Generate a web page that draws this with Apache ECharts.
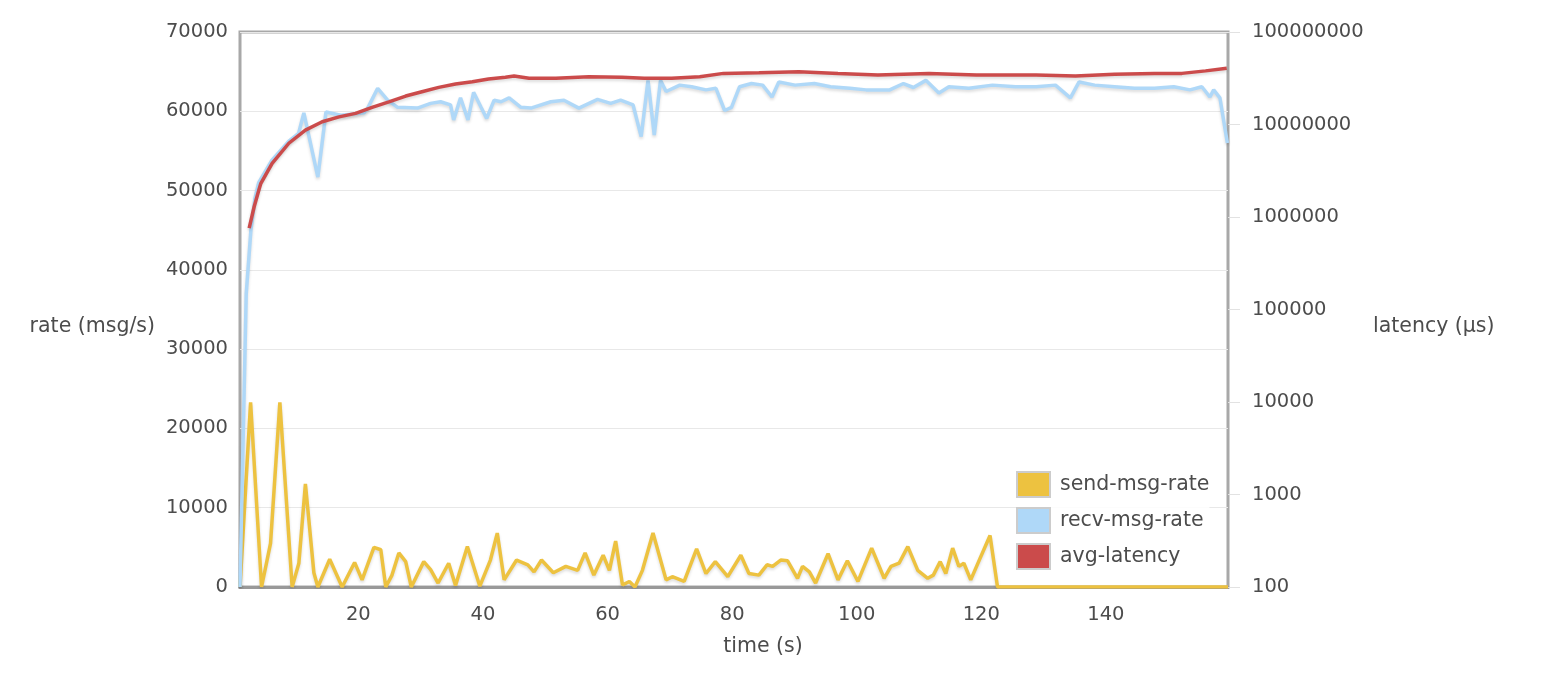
<!DOCTYPE html>
<html>
<head>
<meta charset="utf-8">
<script src="https://cdn.jsdelivr.net/npm/echarts@6/dist/echarts.min.js"></script>
<style>
html,body{margin:0;padding:0;background:#fff;}
#chart{width:1550px;height:678px;}
</style>
</head>
<body>
<div id="chart"></div>
<script>
// ---- data (time in s) ----
const seriesNames = ['send-msg-rate', 'recv-msg-rate', 'avg-latency'];
const xTickLabels = [20, 40, 60, 80, 100, 120, 140];
const leftTicks = [0, 10000, 20000, 30000, 40000, 50000, 60000, 70000];
const rightTicks = [100, 1000, 10000, 100000, 1000000, 10000000, 100000000];

const sendT = [1, 2.7, 4.46, 5.9, 7.4, 9.37, 10.45, 11.5, 12.86, 13.5, 15.4, 17.4, 19.4, 20.6, 22.5, 23.6, 24.4, 25.4, 26.5, 27.6, 28.5, 30.5, 31.6, 32.8, 34.5, 35.6, 37.5, 39.5, 41.2, 42.3, 43.4, 45.4, 47.2, 48.2, 49.4, 51.3, 53.3, 55.2, 56.4, 57.8, 59.3, 60.3, 61.3, 62.4, 63.5, 64.4, 65.6, 67.3, 69.4, 70.4, 72.3, 74.3, 75.8, 77.3, 79.3, 81.4, 82.7, 84.3, 85.6, 86.5, 87.8, 88.9, 90.5, 91.3, 92.4, 93.4, 95.4, 97, 98.5, 100.2, 102.4, 104.4, 105.5, 106.8, 108.2, 109.8, 111.4, 112.3, 113.4, 114.3, 115.4, 116.4, 117.2, 118.3, 119.9, 121.4, 122.6, 159.6];
const sendV = [0, 23300, 0, 5500, 23300, 0, 3000, 13000, 1800, 0, 3500, 0, 3100, 900, 5000, 4700, 0, 1500, 4300, 3200, 0, 3200, 2200, 500, 3000, 200, 5100, 100, 3400, 6800, 900, 3400, 2800, 1900, 3400, 1800, 2600, 2100, 4300, 1500, 4000, 2100, 5800, 250, 700, 0, 2100, 6800, 900, 1300, 700, 4800, 1700, 3200, 1300, 4000, 1700, 1500, 2800, 2600, 3400, 3300, 1100, 2600, 1900, 500, 4200, 900, 3300, 700, 4900, 1100, 2600, 3000, 5100, 2100, 1100, 1500, 3200, 1700, 4900, 2600, 3000, 900, 3800, 6500, 0, 0];

const recvT = [1, 2.0, 2.75, 3.4, 4.0, 6.1, 8.8, 10.4, 11.25, 13.5, 14.8, 17.2, 20.9, 21.5, 23.1, 24.7, 26.3, 29.5, 31.6, 33.2, 34.8, 35.3, 36.4, 37.6, 38.5, 39.7, 40.6, 41.8, 42.9, 44.2, 46.1, 47.7, 50.9, 53, 55.4, 58.4, 60.5, 62.1, 64.1, 65.4, 66.5, 67.5, 68.5, 69.4, 71.6, 73.5, 75.8, 77.4, 78.8, 79.9, 81.2, 83.1, 84.9, 86.4, 87.5, 90.1, 93.2, 95.8, 98.9, 101.5, 105.3, 107.5, 109.1, 111.1, 113.2, 114.8, 118, 121.8, 125.5, 128.8, 131.9, 134.3, 135.7, 138.2, 141.4, 144.6, 147.8, 150.9, 153.5, 155.4, 156.7, 157.3, 158.3, 159.5];
const recvV = [0, 37000, 45000, 49000, 51000, 53800, 56200, 57200, 59800, 51700, 59900, 59500, 59800, 60400, 62900, 61400, 60500, 60400, 61000, 61200, 60800, 58900, 61700, 58900, 62400, 60500, 59100, 61400, 61200, 61700, 60500, 60400, 61200, 61400, 60400, 61500, 61000, 61400, 60800, 56800, 63900, 57000, 63900, 62500, 63300, 63100, 62700, 62900, 60100, 60500, 63100, 63500, 63300, 61800, 63700, 63300, 63500, 63100, 62900, 62700, 62700, 63500, 63000, 63900, 62300, 63100, 62900, 63300, 63100, 63100, 63300, 61700, 63700, 63300, 63100, 62900, 62900, 63100, 62700, 63100, 61800, 62700, 61700, 56000];

const latT = [2.47, 3.27, 4.03, 4.35, 6.16, 8.84, 11.5, 14.2, 16.9, 19.55, 22.2, 24.9, 27.6, 30.2, 32.9, 35.6, 38.3, 40.9, 43.6, 45, 47.4, 51.7, 57, 62.3, 65.9, 70.3, 74.8, 78.6, 84.3, 90.7, 97, 103.4, 111.6, 119.2, 128.8, 135.1, 141.4, 147.8, 152.2, 156, 159.4];
const latV = [760000, 1290000, 1960000, 2310000, 3800000, 6270000, 8700000, 10700000, 12100000, 13200000, 15300000, 17600000, 20300000, 22600000, 25200000, 27400000, 29000000, 31000000, 32400000, 33400000, 31600000, 31600000, 32900000, 32400000, 31600000, 31600000, 32900000, 35700000, 36300000, 37200000, 35700000, 34300000, 35700000, 34300000, 34300000, 33400000, 35000000, 35700000, 35700000, 38000000, 40500000];

const colors = ['#edc240', '#afd8f8', '#cb4b4b'];
const FONT = 'DejaVu Sans';
const TXT = '#4c4c4c';
const NUM_SIZE = 19.5;
const NAME_SIZE = 20.5;

const pairs = (t, v) => t.map((x, i) => [x, v[i]]);

const lineShadow = {shadowColor: 'rgba(0,0,0,0.14)', shadowBlur: 3, shadowOffsetY: 2};

const chart = echarts.init(document.getElementById('chart'), null, {renderer: 'canvas'});
chart.setOption({
  animation: false,
  backgroundColor: '#fff',
  color: colors,
  textStyle: {fontFamily: FONT},
  grid: {left: 240, right: 322, top: 32, bottom: 91, show: true, borderColor: '#a8a8a8', borderWidth: 3, containLabel: false},
  legend: {
    data: seriesNames,
    orient: 'vertical',
    left: 1016,
    top: 471,
    padding: 0,
    icon: 'rect',
    itemWidth: 33,
    itemHeight: 25,
    itemGap: 9,
    itemStyle: {borderColor: '#cccccc', borderWidth: 2},
    textStyle: {fontFamily: FONT, fontSize: NAME_SIZE, color: TXT, padding: [0, 0, 0, 5]},
    backgroundColor: 'rgba(255,255,255,0.85)'
  },
  xAxis: {
    type: 'value',
    min: 1,
    max: 159.6,
    name: 'time (s)',
    nameLocation: 'middle',
    nameGap: 49,
    nameTextStyle: {fontFamily: FONT, fontSize: NAME_SIZE, color: TXT, padding: [0, 0, 0, 58]},
    axisLine: {show: true, lineStyle: {color: '#999', width: 3}},
    axisTick: {show: false},
    splitLine: {show: false},
    axisLabel: {
      customValues: xTickLabels,
      margin: 18,
      fontFamily: FONT, fontSize: NUM_SIZE, color: TXT,
      formatter: v => String(v)
    }
  },
  yAxis: [
    {
      type: 'value',
      min: leftTicks[0],
      max: leftTicks[leftTicks.length - 1],
      interval: 10000,
      name: 'rate (msg/s)',
      nameLocation: 'middle',
      nameRotate: 0,
      nameGap: 85,
      nameTextStyle: {fontFamily: FONT, fontSize: NAME_SIZE, color: TXT, verticalAlign: 'top', padding: [7, 0, 0, 0]},
      axisLine: {show: false},
      axisTick: {show: false},
      splitLine: {show: true, lineStyle: {color: '#e8e8e8', width: 1}},
      axisLabel: {margin: 12, fontFamily: FONT, fontSize: NUM_SIZE, color: TXT, formatter: v => String(v)}
    },
    {
      type: 'log',
      logBase: 10,
      min: rightTicks[0],
      max: rightTicks[rightTicks.length - 1],
      position: 'right',
      name: 'latency (μs)',
      nameLocation: 'middle',
      nameRotate: 0,
      nameGap: 145,
      nameTextStyle: {fontFamily: FONT, fontSize: NAME_SIZE, color: TXT, verticalAlign: 'top', padding: [7, 0, 0, 0]},
      axisLine: {show: false},
      axisTick: {show: true, length: 12, lineStyle: {color: '#e2e2e2', width: 1}},
      splitLine: {show: false},
      axisLabel: {margin: 24, fontFamily: FONT, fontSize: NUM_SIZE, color: TXT, formatter: v => String(Math.round(v))}
    }
  ],
  series: [
    {
      name: seriesNames[0], type: 'line', yAxisIndex: 0, showSymbol: false, symbol: 'none',
      data: pairs(sendT, sendV),
      lineStyle: Object.assign({width: 3.5, color: colors[0]}, lineShadow), z: 2
    },
    {
      name: seriesNames[1], type: 'line', yAxisIndex: 0, showSymbol: false, symbol: 'none',
      data: pairs(recvT, recvV),
      lineStyle: Object.assign({width: 3.5, color: colors[1]}, lineShadow), z: 3
    },
    {
      name: seriesNames[2], type: 'line', yAxisIndex: 1, showSymbol: false, symbol: 'none',
      data: pairs(latT, latV),
      lineStyle: Object.assign({width: 3.5, color: colors[2]}, lineShadow), z: 4
    }
  ]
});
</script>
</body>
</html>
